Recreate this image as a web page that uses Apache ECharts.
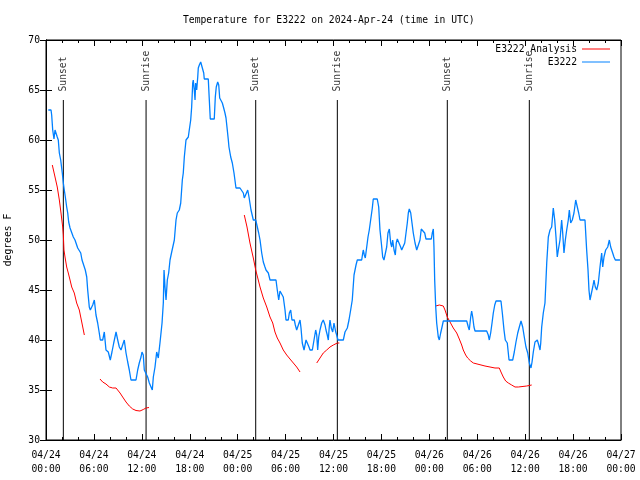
<!DOCTYPE html>
<html><head><meta charset="utf-8">
<script src="https://cdn.jsdelivr.net/npm/echarts@6/dist/echarts.min.js"></script>
<style>html,body{margin:0;padding:0;background:#fff}#c{width:640px;height:480px}</style>
</head><body><div id="c"></div>
<script>
// hours since 2024-04-24 00:00 UTC, temperature in degrees F
const e3222Obs = [[0.29,63],[0.63,63],[0.71,62.5],[0.84,61],[1.00,60.1],[1.13,61],[1.34,61.2],[1.41,60.3],[1.54,60],[1.67,58.7],[1.84,58],[1.97,57.8],[2.04,56.7],[2.17,55.7],[2.29,55],[2.42,54.3],[2.59,53.3],[2.72,52.7],[2.84,51.8],[3.01,51.2],[3.26,51],[3.42,50.3],[3.63,50],[3.84,50],[3.97,49.2],[4.17,49],[4.35,48.7],[4.51,48],[4.76,48],[4.92,47],[5.10,46.3],[5.22,45],[5.42,43.3],[5.55,43],[5.85,43.5],[6.05,44],[6.26,42.5],[6.47,41.7],[6.67,40.7],[6.80,40],[7.10,40],[7.30,40.8],[7.51,39],[7.80,38.8],[8.05,38],[8.26,38.8],[8.48,39.7],[8.77,40.8],[8.98,40],[9.18,39.3],[9.39,39],[9.60,39],[9.80,40],[10.02,38.7],[10.23,37.8],[10.43,37],[10.64,36],[11.27,36],[11.48,37],[11.68,37.7],[11.90,38.3],[12.02,38.8],[12.18,38.5],[12.31,37],[12.52,37],[12.73,36.3],[12.94,35.7],[13.15,35.3],[13.31,35],[13.44,36.3],[13.65,37.3],[13.86,38.8],[14.06,38.2],[14.27,39.7],[14.53,41.7],[14.69,43.7],[14.78,47],[14.90,45.3],[15.03,44],[15.19,46],[15.36,46.7],[15.53,48],[15.74,48.8],[15.94,49],[16.07,50],[16.28,52],[16.44,52.7],[16.69,53],[16.87,53.7],[17.07,56],[17.19,56.7],[17.32,58.3],[17.53,60],[17.82,60.3],[17.94,61],[18.12,62],[18.24,63.3],[18.37,65.7],[18.44,66],[18.57,65],[18.66,64],[18.74,65.7],[18.87,65],[19.00,66.3],[19.07,67.2],[19.20,67.5],[19.37,67.8],[19.50,68],[19.62,67.7],[19.75,66.7],[19.82,66.1],[20.32,66.1],[20.45,64],[20.57,62.1],[21.07,62.1],[21.20,64.3],[21.32,65.3],[21.50,65.8],[21.63,65.5],[21.75,64.2],[21.91,64],[22.08,63.7],[22.25,63.2],[22.41,62.7],[22.54,62.2],[22.66,61.3],[22.83,60],[22.91,59.3],[23.13,58.3],[23.33,57.7],[23.54,56.7],[23.79,55.2],[24.29,55.2],[24.50,55],[24.71,54.7],[24.83,54.2],[25.04,54.2],[25.26,55],[25.42,54.3],[25.67,53],[25.96,52],[26.26,52],[26.46,51.3],[26.63,50.7],[26.80,50],[27.01,48.7],[27.21,47.8],[27.42,47.3],[27.55,47],[27.84,46.7],[28.05,46],[28.80,46],[28.96,45],[29.14,44],[29.30,44.9],[29.55,44.9],[29.71,44.3],[29.93,43],[30.05,42],[30.34,42],[30.47,42.7],[30.64,43],[30.80,42],[31.09,42],[31.22,41.5],[31.39,41],[31.59,41],[31.81,42],[31.93,41.2],[32.09,39.7],[32.31,39],[32.56,40],[32.72,39.7],[32.93,39.3],[33.06,39],[33.35,39],[33.56,40],[33.77,41],[33.90,40.5],[34.02,39],[34.15,40.3],[34.31,41],[34.52,41.7],[34.72,42],[34.94,41.5],[35.06,41],[35.22,40.5],[35.35,40],[35.47,41.3],[35.56,42],[35.72,41.2],[35.90,40.8],[36.06,41.7],[36.28,40.8],[36.40,40.5],[36.56,40],[37.23,40],[37.44,40.8],[37.73,41.2],[37.94,42],[38.15,43],[38.35,44],[38.57,46.5],[38.82,47.5],[38.98,48],[39.53,48],[39.66,48.7],[39.73,49],[39.86,48.5],[39.98,48.2],[40.16,49.3],[40.32,50.3],[40.48,51],[40.73,51.1],[40.86,53.2],[40.98,54.1],[41.48,54.1],[41.66,53.3],[41.82,51],[41.99,49.7],[42.16,48.3],[42.32,48],[42.49,48],[42.66,49.3],[42.82,50.7],[42.99,51.1],[43.16,49.7],[43.29,49.3],[43.41,50],[43.58,49],[43.74,48.5],[43.86,49.7],[43.99,50.1],[44.24,50.1],[44.41,49.3],[44.54,49],[44.74,49],[44.92,49.7],[45.08,50.7],[45.24,51.7],[45.37,52.7],[45.49,53.1],[45.67,52.7],[45.83,51.7],[45.99,50.7],[46.21,49.7],[46.42,49],[46.62,49],[46.83,50],[46.99,51.1],[47.24,51.1],[47.42,50.7],[47.58,50.1],[48.25,50.1],[48.37,50.7],[48.50,51.1],[48.58,49.3],[48.67,46],[48.80,43.3],[48.92,41.7],[49.12,40.3],[49.25,40],[49.42,40.7],[49.59,41.3],[49.75,41.9],[52.68,41.9],[52.88,41.3],[53.00,41],[53.18,42.3],[53.30,42.9],[53.43,42.3],[53.59,41.3],[53.72,40.9],[55.18,40.9],[55.38,40.5],[55.51,40],[55.68,40.7],[55.85,41.7],[56.01,42.7],[56.19,43.5],[56.35,43.9],[56.97,43.9],[57.14,42.7],[57.35,41],[57.51,40],[57.76,39.7],[57.98,38],[58.44,38],[58.64,38.8],[58.85,39.8],[59.07,40.7],[59.27,41.3],[59.48,41.9],[59.69,41.3],[59.89,40.3],[60.10,39.3],[60.32,38.7],[60.52,37.7],[60.73,37.2],[60.86,37.8],[61.02,38.8],[61.23,39.8],[61.52,40],[61.70,39.5],[61.86,39],[61.95,39.7],[62.07,41.3],[62.27,42.7],[62.48,43.7],[62.70,47.7],[62.90,50.3],[63.11,51],[63.32,51.3],[63.52,53.2],[63.70,52],[63.86,50.3],[64.02,48.3],[64.15,49],[64.36,50],[64.57,52],[64.70,50.7],[64.86,48.7],[65.03,50],[65.20,51],[65.40,52],[65.53,53],[65.70,51.7],[65.90,52],[66.11,52.7],[66.33,54],[66.53,53.3],[66.70,52.7],[66.87,52],[67.49,52],[67.70,49],[67.87,47],[67.99,45],[68.12,44],[68.33,44],[68.46,45.3],[68.62,46],[68.78,45.3],[68.96,45],[69.16,45.7],[69.37,47.3],[69.58,48.7],[69.71,47.3],[69.87,48.3],[70.08,49],[70.34,49.3],[70.54,50],[70.71,49.3],[70.96,48.7],[71.12,48.3],[71.29,48],[71.87,48]];

// analysis: null temperature marks a gap between segments
const e3222Analysis = [[0.79,57.5],[1.13,56.3],[1.41,55.3],[1.67,54],[1.88,52.7],[2.09,51.3],[2.17,50.5],[2.25,49],[2.38,48.3],[2.59,47.3],[2.79,46.7],[3.01,46],[3.22,45.3],[3.54,44.7],[3.84,43.7],[4.17,43],[4.60,41.3],[4.80,40.5],
 [5.8,null],
 [6.76,36.1],[7.10,35.8],[7.51,35.6],[7.93,35.3],[8.35,35.2],[8.77,35.2],[8.98,35],[9.27,34.7],[9.60,34.3],[10.02,33.8],[10.43,33.4],[10.86,33.1],[11.27,32.95],[11.77,32.9],[12.18,33.05],[12.52,33.2],[12.90,33.25],
 [18,null],
 [24.83,52.5],[25.17,51.3],[25.54,49.7],[25.96,48.2],[26.26,47],[26.58,46],[26.80,45.3],[27.21,44.2],[27.64,43.3],[28.05,42.3],[28.39,41.7],[28.67,40.8],[28.96,40.2],[29.30,39.7],[29.71,39],[30.14,38.5],[30.55,38.1],[30.97,37.7],[31.39,37.3],[31.81,36.8],
 [33,null],
 [33.90,37.7],[34.31,38.2],[34.72,38.7],[35.15,39],[35.56,39.3],[35.98,39.5],[36.48,39.7],[36.73,39.7],
 [42,null],
 [48.80,43.4],[49.25,43.5],[49.75,43.4],[49.96,43],[50.25,42.3],[50.59,41.8],[51.00,41.2],[51.43,40.7],[51.75,40.1],[52.05,39.5],[52.25,39],[52.55,38.5],[52.80,38.2],[53.18,37.9],[53.51,37.7],[53.72,37.5],[54.97,37.4],[55.60,37.3],[56.22,37.2],[56.76,37.2],[56.97,36.8],[57.26,36.3],[57.56,35.9],[57.89,35.7],[58.31,35.5],[58.73,35.3],[59.14,35.3],[60.19,35.4],[60.82,35.5]];

const sunTimes = [2.17, 12.53, 26.26, 36.48, 50.25, 60.52];
const sunLabels = ['Sunset', 'Sunrise', 'Sunset', 'Sunrise', 'Sunset', 'Sunrise'];
const sunLineBottom = 30, sunLineTop = 64;

const yTicks = [30, 35, 40, 45, 50, 55, 60, 65, 70];
const xMax = 72, xStep = 6, xMinorPerStep = 3;
const startDay = 24;

const FONT = 'DejaVu Sans Mono';
const FS = 9.7;

function fmtX(v) {
  const d = startDay + Math.floor(v / 24);
  const h = Math.round(v % 24);
  return '04/' + String(d).padStart(2, '0') + '\n' + String(h).padStart(2, '0') + ':00';
}

const chart = echarts.init(document.getElementById('c'), null, {renderer: 'canvas'});

const axisCommon = {
  type: 'value', min: 0, max: xMax, interval: xStep,
  axisLine: {show: true, lineStyle: {color: '#000', width: 1}},
  axisTick: {show: true, inside: true, length: 6, lineStyle: {color: '#000'}},
  minorTick: {show: true, splitNumber: xMinorPerStep, length: 3, lineStyle: {color: '#000'}},
  splitLine: {show: false}, minorSplitLine: {show: false}
};
const yCommon = {
  type: 'value', min: yTicks[0], max: yTicks[yTicks.length - 1], interval: 5,
  axisLine: {show: true, lineStyle: {color: '#000', width: 1}},
  axisTick: {show: true, inside: true, length: 6, lineStyle: {color: '#000'}},
  splitLine: {show: false}
};

const series = [
  {
    name: 'E3222 Analysis', type: 'line', data: e3222Analysis, showSymbol: false, symbol: 'none',
    connectNulls: false, lineStyle: {color: '#ff0000', width: 1}, itemStyle: {color: '#ff0000'}, z: 3
  },
  {
    name: 'E3222', type: 'line', data: e3222Obs, showSymbol: false, symbol: 'none',
    lineStyle: {color: '#0080ff', width: 1.3}, itemStyle: {color: '#0080ff'}, z: 4
  }
];
sunTimes.forEach((t, i) => {
  series.push({
    name: 'sun' + i, type: 'line', data: [[t, sunLineBottom], [t, sunLineTop]],
    showSymbol: false, symbol: 'none', silent: true,
    lineStyle: {color: '#000', width: 1}, z: 2
  });
});
series.push({
  name: 'sunLabels', type: 'scatter', silent: true, symbolSize: 1,
  itemStyle: {color: 'rgba(0,0,0,0)'},
  data: sunTimes.map((t, i) => ({value: [t, sunLineTop], name: sunLabels[i]})),
  label: {
    show: true, formatter: '{b}', position: 'top', distance: 8, rotate: 90,
    align: 'left', verticalAlign: 'middle', color: '#000', fontFamily: FONT, fontSize: FS
  }, z: 5
});

chart.setOption({
  animation: false,
  backgroundColor: '#fff',
  title: {
    text: 'Temperature for E3222 on 2024-Apr-24 (time in UTC)',
    left: 183, top: 15, padding: 0,
    textStyle: {fontFamily: FONT, fontSize: FS, fontWeight: 'normal', color: '#000'}
  },
  legend: {
    data: ['E3222 Analysis', 'E3222'], orient: 'vertical', align: 'right',
    right: 30, top: 43, padding: 0, itemGap: 1, itemWidth: 28, itemHeight: 1, icon: 'rect',
    textStyle: {fontFamily: FONT, fontSize: FS, color: '#000', lineHeight: 12}
  },
  grid: {left: 46, right: 19, top: 40, bottom: 40, show: true, borderColor: '#000', borderWidth: 1,
    containLabel: false, outerBoundsMode: 'none'},
  xAxis: [
    Object.assign({}, axisCommon, {position: 'bottom',
      axisLabel: {show: true, formatter: fmtX, fontFamily: FONT, fontSize: FS, color: '#000', margin: 8, lineHeight: 14}}),
    Object.assign({}, axisCommon, {position: 'top', axisLabel: {show: false}})
  ],
  yAxis: [
    Object.assign({}, yCommon, {position: 'left', name: 'degrees F', nameLocation: 'middle', nameRotate: 90, nameGap: 33,
      nameTextStyle: {fontFamily: FONT, fontSize: FS, color: '#000'},
      axisLabel: {show: true, fontFamily: FONT, fontSize: FS, color: '#000', margin: 6}}),
    Object.assign({}, yCommon, {position: 'right', axisLabel: {show: false}})
  ],
  series: series
});
</script></body></html>
